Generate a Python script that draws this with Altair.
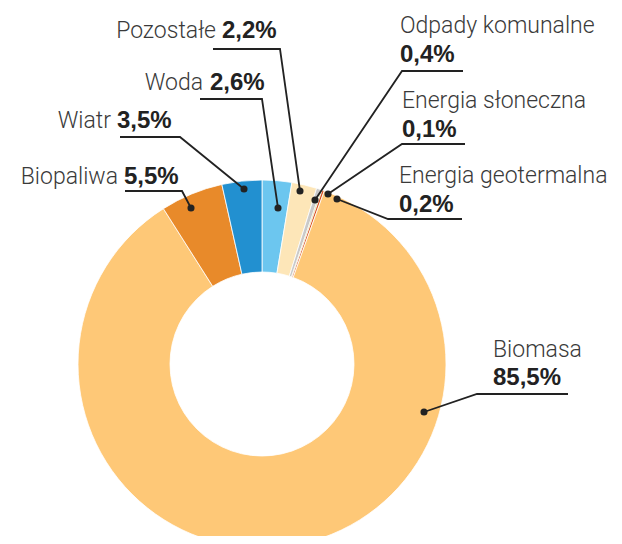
import altair as alt
import pandas as pd

# ---------------- data ----------------
categories = ["Woda", "Pozostałe", "Odpady komunalne", "Energia słoneczna",
              "Energia geotermalna", "Biomasa", "Biopaliwa", "Wiatr"]
values = [2.6, 2.2, 0.4, 0.1, 0.2, 85.5, 5.5, 3.5]
colors = ["#6cc6ef", "#fde6b8", "#c9c9c9", "#b5bd34", "#d8501d",
          "#fec877", "#e88a2a", "#2290d0"]

# ---------------- layout (picture pixel coordinates) ----------------
W, H = 606, 528          # chart size; page margin is 8px
OFF = 8
CX, CY = 262, 364        # donut centre
R_OUT, R_IN = 184, 92
FONT_REG = "Roboto"
FONT_BOLD = "Liberation Sans"
FS_REG = 23
FS_BOLD = 24

# inline: regular name right-aligned at x, bold value left-aligned after it
# stacked: name on one line, bold value below, both left-aligned at x
label_layout = {
    "Pozostałe": dict(mode="inline", x=216, y=38, gap=6,
                      line=[(213, 49), (280, 49), (300, 191)]),
    "Woda": dict(mode="inline", x=203, y=90, gap=7,
                 line=[(200, 99), (262, 99), (278, 208)]),
    "Wiatr": dict(mode="inline", x=111, y=128, gap=6,
                  line=[(120, 137), (180, 137), (244, 189)]),
    "Biopaliwa": dict(mode="inline", x=118, y=184, gap=6,
                      line=[(125, 191), (182, 191), (191, 208)]),
    "Odpady komunalne": dict(mode="stacked", x=400, y=33, dy=29,
                             line=[(463, 71), (402, 71), (315, 200)]),
    "Energia słoneczna": dict(mode="stacked", x=402, y=108, dy=29,
                              line=[(465, 144), (402, 144), (328, 194)]),
    "Energia geotermalna": dict(mode="stacked", x=399, y=183, dy=29,
                                line=[(462, 219), (388, 219), (337, 199)]),
    "Biomasa": dict(mode="stacked", x=493, y=357, dy=28,
                    line=[(568, 394), (477, 394), (424, 412)]),
}


def fmt(v):
    return f"{v:.1f}".replace(".", ",") + "%"


# ---------------- tables ----------------
pie_df = pd.DataFrame({"category": categories, "value": values,
                       "idx": list(range(len(categories)))})

reg_rows, bold_rows, line_rows, dot_rows = [], [], [], []
for cat, val in zip(categories, values):
    lay = label_layout[cat]
    if lay["mode"] == "inline":
        reg_rows.append(dict(px=lay["x"], py=lay["y"], t=cat, align="right"))
        bold_rows.append(dict(px=lay["x"] + lay["gap"], py=lay["y"], t=fmt(val)))
    else:
        reg_rows.append(dict(px=lay["x"], py=lay["y"], t=cat, align="left"))
        bold_rows.append(dict(px=lay["x"], py=lay["y"] + lay["dy"], t=fmt(val)))
    for k, (lx, ly) in enumerate(lay["line"]):
        line_rows.append(dict(cat=cat, k=k, px=lx, py=ly))
    dx, dy = lay["line"][-1]
    dot_rows.append(dict(cat=cat, px=dx, py=dy))

reg_df = pd.DataFrame(reg_rows)
bold_df = pd.DataFrame(bold_rows)
line_df = pd.DataFrame(line_rows)
dot_df = pd.DataFrame(dot_rows)

xs = alt.Scale(domain=[OFF, OFF + W])
ys = alt.Scale(domain=[OFF + H, OFF])
X = alt.X("px:Q", scale=xs, axis=None)
Y = alt.Y("py:Q", scale=ys, axis=None)

pie = alt.Chart(pie_df).mark_arc(
    outerRadius=R_OUT, innerRadius=R_IN, stroke="white", strokeWidth=0.8
).encode(
    theta=alt.Theta("value:Q", stack=True),
    color=alt.Color("category:N", scale=alt.Scale(domain=categories, range=colors),
                    legend=None),
    order=alt.Order("idx:Q"),
    x=alt.value(CX - OFF),
    y=alt.value(CY - OFF),
)

lines = alt.Chart(line_df).mark_line(color="#222222", strokeWidth=1.8,
                                     strokeCap="butt").encode(
    x=X, y=Y, detail="cat:N", order="k:Q")

dots = alt.Chart(dot_df).mark_circle(color="#222222", size=50, opacity=1).encode(
    x=X, y=Y)

reg_left = alt.Chart(reg_df[reg_df["align"] == "left"]).mark_text(
    font=FONT_REG, fontSize=FS_REG, fontWeight=300, color="#3a3a3a",
    align="left", baseline="alphabetic").encode(x=X, y=Y, text="t:N")
reg_right = alt.Chart(reg_df[reg_df["align"] == "right"]).mark_text(
    font=FONT_REG, fontSize=FS_REG, fontWeight=300, color="#3a3a3a",
    align="right", baseline="alphabetic").encode(x=X, y=Y, text="t:N")
bold = alt.Chart(bold_df).mark_text(
    font=FONT_BOLD, fontSize=FS_BOLD, fontWeight="bold", color="#222222",
    align="left", baseline="alphabetic").encode(x=X, y=Y, text="t:N")

chart = alt.layer(pie, lines, dots, reg_left, reg_right, bold).properties(
    width=W, height=H, autosize="none", padding=0
).configure_view(stroke=None)

chart.save("out.html", embed_options={"renderer": "svg", "actions": False})
